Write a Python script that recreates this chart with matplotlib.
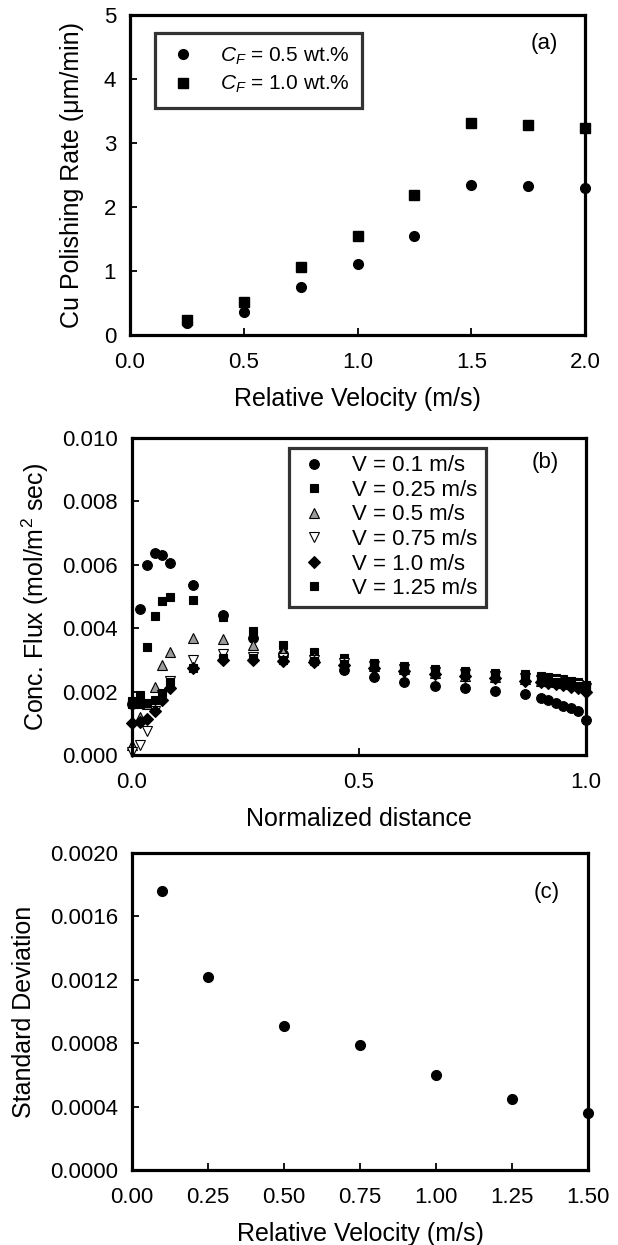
import matplotlib
matplotlib.use('Agg')
import matplotlib.pyplot as plt

plt.rcParams['font.family'] = ['Liberation Sans', 'DejaVu Sans']
plt.rcParams['mathtext.fontset'] = 'custom'
plt.rcParams['mathtext.rm'] = 'Liberation Sans'
plt.rcParams['mathtext.it'] = 'Liberation Sans:italic'

# ---- panel (a): polishing rate vs velocity
vel_a = [0.25, 0.5, 0.75, 1.0, 1.25, 1.5, 1.75, 2.0]
rate_cf05 = [0.18, 0.36, 0.75, 1.11, 1.55, 2.34, 2.33, 2.30]
rate_cf10 = [0.23, 0.51, 1.06, 1.55, 2.19, 3.31, 3.28, 3.24]
labels_a = ['$C_F$ = 0.5 wt.%', '$C_F$ = 1.0 wt.%']

# ---- panel (b): flux along normalized distance (x1e-3 mol/m2 sec)
dist = [0.0, 0.0167, 0.0333, 0.05, 0.0667, 0.0833, 0.1333, 0.2, 0.2667,
        0.3333, 0.4, 0.4667, 0.5333, 0.6, 0.6667, 0.7333, 0.8, 0.8667,
        0.9, 0.9167, 0.9333, 0.95, 0.9667, 0.9833, 1.0]
flux_v010 = [1.6, 4.6, 6.0, 6.37, 6.3, 6.05, 5.36, 4.42, 3.7, 3.2, 2.95,
             2.68, 2.45, 2.3, 2.18, 2.1, 2.02, 1.93,
             1.8, 1.72, 1.64, 1.56, 1.48, 1.38, 1.1]
flux_v025 = [1.7, 1.9, 3.4, 4.4, 4.85, 5.0, 4.9, 4.35, 3.9, 3.47, 3.25,
             3.05, 2.9, 2.8, 2.72, 2.66, 2.6, 2.55,
             2.5, 2.47, 2.44, 2.4, 2.35, 2.3, 2.2]
flux_v050 = [0.3, 1.2, 1.6, 2.15, 2.85, 3.25, 3.7, 3.65, 3.47, 3.25, 3.1,
             2.95, 2.8, 2.7, 2.6, 2.5, 2.45, 2.4,
             2.35, 2.32, 2.3, 2.27, 2.24, 2.2, 2.1]
flux_v075 = [0.1, 0.3, 0.75, 1.4, 1.9, 2.35, 3.0, 3.2, 3.1, 3.05, 3.0,
             2.9, 2.8, 2.7, 2.62, 2.55, 2.5, 2.42,
             2.38, 2.35, 2.32, 2.28, 2.25, 2.2, 2.1]
flux_v100 = [1.0, 1.05, 1.15, 1.4, 1.75, 2.1, 2.75, 3.0, 3.0, 2.98, 2.92,
             2.85, 2.75, 2.65, 2.57, 2.5, 2.42, 2.35,
             2.3, 2.27, 2.23, 2.2, 2.15, 2.1, 2.0]
flux_v125 = [1.6, 1.6, 1.65, 1.75, 1.95, 2.3, 2.75, 3.05, 3.05, 3.0, 2.95,
             2.88, 2.8, 2.7, 2.62, 2.55, 2.48, 2.42,
             2.38, 2.35, 2.3, 2.27, 2.23, 2.18, 2.1]
labels_b = ['V = 0.1 m/s', 'V = 0.25 m/s', 'V = 0.5 m/s',
            'V = 0.75 m/s', 'V = 1.0 m/s', 'V = 1.25 m/s']

# ---- panel (c): standard deviation vs velocity
vel_c = [0.1, 0.25, 0.5, 0.75, 1.0, 1.25, 1.5]
std_c = [0.00176, 0.00122, 0.00091, 0.00079, 0.00060, 0.00045, 0.00036]

TICK_FS = 16
LABEL_FS = 18


def style_axes(ax):
    for s in ax.spines.values():
        s.set_linewidth(2.3)
    ax.tick_params(direction='in', length=5, width=1.3, labelsize=TICK_FS)
    ax.tick_params(axis='x', pad=12)
    ax.tick_params(axis='y', pad=10)


W, H = 618, 1245
fig = plt.figure(figsize=(W / 100., H / 100.), dpi=100)

# (a)
ax = fig.add_axes([130. / W, 1 - 335. / H, 455. / W, 320. / H])
ax.plot(vel_a, rate_cf05, 'o', color='k', ms=7, label=labels_a[0], clip_on=False)
ax.plot(vel_a, rate_cf10, 's', color='k', ms=7, label=labels_a[1], clip_on=False)
ax.set_xlim(0, 2.0)
ax.set_ylim(0, 5)
ax.set_xticks([0.0, 0.5, 1.0, 1.5, 2.0])
ax.set_xticklabels(['0.0', '0.5', '1.0', '1.5', '2.0'])
ax.set_yticks([0, 1, 2, 3, 4, 5])
style_axes(ax)
ax.set_xlabel('Relative Velocity (m/s)', fontsize=LABEL_FS, labelpad=10)
ax.set_ylabel('Cu Polishing Rate (\u03bcm/min)', fontsize=LABEL_FS, labelpad=14)
ax.text(0.91, 0.91, '(a)', transform=ax.transAxes, fontsize=TICK_FS, ha='center', va='center')
leg = ax.legend(loc='upper left', bbox_to_anchor=(0.055, 0.944), fontsize=15,
                frameon=True, fancybox=False, handletextpad=1.0, borderpad=0.6,
                labelspacing=0.35, handlelength=1.5, borderaxespad=0)
leg.get_frame().set_edgecolor('k')
leg.get_frame().set_linewidth(2.3)

# (b)
ax = fig.add_axes([132. / W, 1 - 755. / H, 454. / W, 317. / H])
series_b = [flux_v010, flux_v025, flux_v050, flux_v075, flux_v100, flux_v125]
markers_b = ['o', 's', '^', 'v', 'D', 's']
faces_b = ['k', 'k', '#9a9a9a', 'white', 'k', 'k']
sizes_b = [7, 6.3, 7, 7, 6, 6.3]
for ys, m, fc, sz, lab in zip(series_b, markers_b, faces_b, sizes_b, labels_b):
    ax.plot(dist, [v * 1e-3 for v in ys], m, mfc=fc, mec='k', mew=0.8,
            ms=sz, label=lab, clip_on=False)
ax.set_xlim(0, 1.0)
ax.set_ylim(0, 0.010)
ax.set_xticks([0.0, 0.5, 1.0])
ax.set_xticklabels(['0.0', '0.5', '1.0'])
ax.set_yticks([0.0, 0.002, 0.004, 0.006, 0.008, 0.010])
ax.set_yticklabels(['0.000', '0.002', '0.004', '0.006', '0.008', '0.010'])
style_axes(ax)
ax.set_xlabel('Normalized distance', fontsize=LABEL_FS, labelpad=10)
ax.set_ylabel('Conc. Flux (mol/m$^2$ sec)', fontsize=LABEL_FS, labelpad=8)
ax.text(0.91, 0.924, '(b)', transform=ax.transAxes, fontsize=TICK_FS, ha='center', va='center')
leg = ax.legend(loc='upper left', bbox_to_anchor=(0.346, 0.97), fontsize=16,
                frameon=True, fancybox=False, handletextpad=1.0, borderpad=0.35,
                labelspacing=0.16, handlelength=1.5, borderaxespad=0)
leg.get_frame().set_edgecolor('k')
leg.get_frame().set_linewidth(2.3)

# (c)
ax = fig.add_axes([132. / W, 1 - 1170. / H, 456. / W, 317. / H])
ax.plot(vel_c, std_c, 'o', color='k', ms=7, clip_on=False)
ax.set_xlim(0, 1.5)
ax.set_ylim(0, 0.0020)
ax.set_xticks([0.0, 0.25, 0.5, 0.75, 1.0, 1.25, 1.5])
ax.set_xticklabels(['0.00', '0.25', '0.50', '0.75', '1.00', '1.25', '1.50'])
ax.set_yticks([0.0, 0.0004, 0.0008, 0.0012, 0.0016, 0.0020])
ax.set_yticklabels(['0.0000', '0.0004', '0.0008', '0.0012', '0.0016', '0.0020'])
style_axes(ax)
ax.set_xlabel('Relative Velocity (m/s)', fontsize=LABEL_FS, labelpad=10)
ax.set_ylabel('Standard Deviation', fontsize=LABEL_FS, labelpad=10)
ax.text(0.91, 0.874, '(c)', transform=ax.transAxes, fontsize=TICK_FS, ha='center', va='center')

fig.savefig('out.png', dpi=100)
